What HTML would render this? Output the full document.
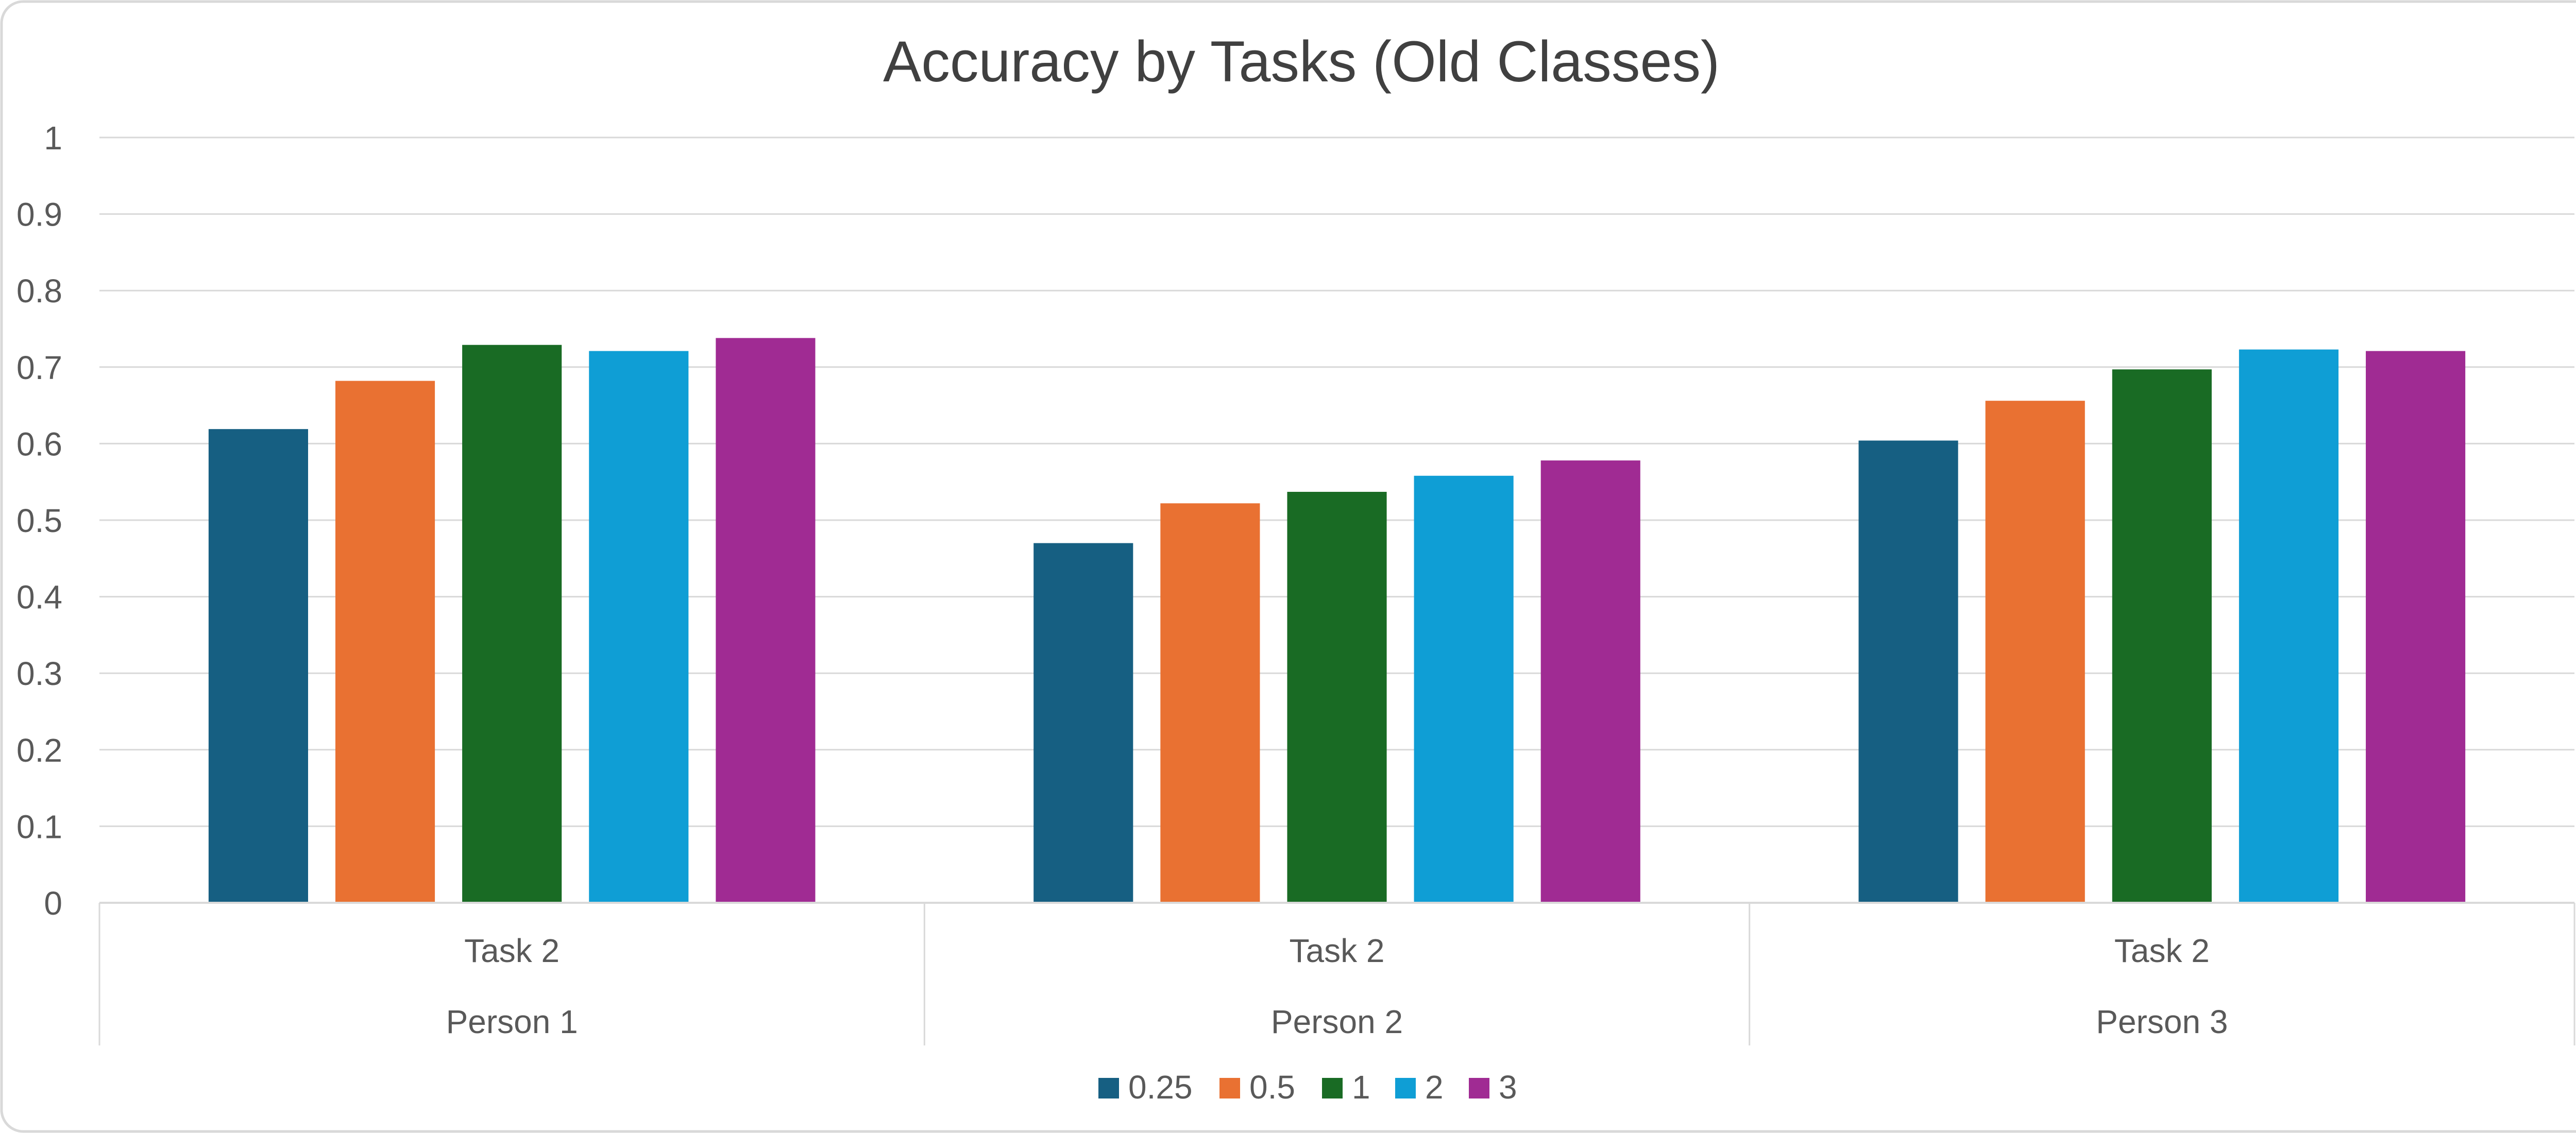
<!DOCTYPE html>
<html><head><meta charset="utf-8">
<style>
html,body{margin:0;padding:0;background:#fff;}
svg{display:block;font-family:"Liberation Sans",sans-serif;}
</style></head>
<body>
<svg id="chart" width="5053" height="2200" viewBox="0 0 5053 2200" xmlns="http://www.w3.org/2000/svg">
<rect x="3" y="3" width="5047" height="2194" rx="42" fill="#fff" stroke="#d9d9d9" stroke-width="5"/>
<text x="2526" y="158" text-anchor="middle" font-size="112" fill="#404040" textLength="1624" lengthAdjust="spacingAndGlyphs">Accuracy by Tasks (Old Classes)</text>
<g id="grid"></g>
<g id="bars"></g>
<g id="xaxis"></g>
<g id="legend"></g>
</svg>
<script>
const categories = ["Person 1", "Person 2", "Person 3"];
const subLabels = ["Task 2", "Task 2", "Task 2"];
const seriesNames = ["0.25", "0.5", "1", "2", "3"];
const s025 = [0.619, 0.470, 0.604];
const s05 = [0.682, 0.522, 0.656];
const s1 = [0.729, 0.537, 0.697];
const s2 = [0.721, 0.558, 0.723];
const s3 = [0.738, 0.578, 0.721];
const yTicks = ["0", "0.1", "0.2", "0.3", "0.4", "0.5", "0.6", "0.7", "0.8", "0.9", "1"];

const series = [s025, s05, s1, s2, s3];
const colors = ["#165f82", "#e97132", "#196b24", "#0f9ed5", "#a02b93"];
const NS = "http://www.w3.org/2000/svg";
const X0 = 193, X1 = 4997, Y0 = 1753, Y1 = 267;
const yScale = v => Y0 - (v - 0) / (1 - 0) * (Y0 - Y1);
const catW = (X1 - X0) / categories.length;
const xCat = i => X0 + i * catW;
function mk(tag, attrs, parent) {
  const e = document.createElementNS(NS, tag);
  for (const k in attrs) e.setAttribute(k, attrs[k]);
  parent.appendChild(e);
  return e;
}
const grid = document.getElementById('grid');
yTicks.forEach(t => {
  const v = parseFloat(t);
  const y = yScale(v);
  if (v > 0) {
    const l = mk('line', {x1: X0, x2: X1, y1: y, y2: y, stroke: '#d9d9d9', 'stroke-width': 3}, grid);
    
    
  }
  const tx = mk('text', {x: 121, y: y + 23, 'text-anchor': 'end', 'font-size': 64, fill: '#595959'}, grid);
  tx.textContent = t;
  
  
});
const bars = document.getElementById('bars');
const barW = catW * 0.1206, pitch = barW + 53;
categories.forEach((c, i) => {
  const cx = xCat(i) + catW / 2;
  const start = cx - (pitch * 4 + barW) / 2;
  series.forEach((s, j) => {
    const y = yScale(s[i]);
    const r = mk('rect', {x: start + j * pitch, y: y, width: barW, height: Y0 - y, fill: colors[j]}, bars);
    
    
  });
});
const xa = document.getElementById('xaxis');
const base = mk('line', {x1: X0, x2: X1, y1: Y0, y2: Y0, stroke: '#d9d9d9', 'stroke-width': 4}, xa);


for (let i = 0; i <= categories.length; i++) {
  const l = mk('line', {x1: xCat(i), x2: xCat(i), y1: Y0, y2: 2030, stroke: '#d9d9d9', 'stroke-width': 3}, xa);
  
  
}
categories.forEach((c, i) => {
  const cx = xCat(i) + catW / 2;
  const t1 = mk('text', {x: cx, y: 1868, 'text-anchor': 'middle', 'font-size': 64, fill: '#595959'}, xa);
  t1.textContent = subLabels[i];
  
  
  const t2 = mk('text', {x: cx, y: 2006, 'text-anchor': 'middle', 'font-size': 64, fill: '#595959'}, xa);
  t2.textContent = c;
  
  
});
const lg = document.getElementById('legend');
const legX = [2132, 2367, 2566, 2708, 2851];
seriesNames.forEach((n, j) => {
  const g = mk('g', {}, lg);
  
  
  const r = mk('rect', {x: legX[j], y: 2093, width: 40, height: 40, fill: colors[j]}, g);
  
  
  const t = mk('text', {x: legX[j] + 58, y: 2133, 'font-size': 64, fill: '#595959'}, g);
  t.textContent = n;
  
  
});
</script>
</body></html>
